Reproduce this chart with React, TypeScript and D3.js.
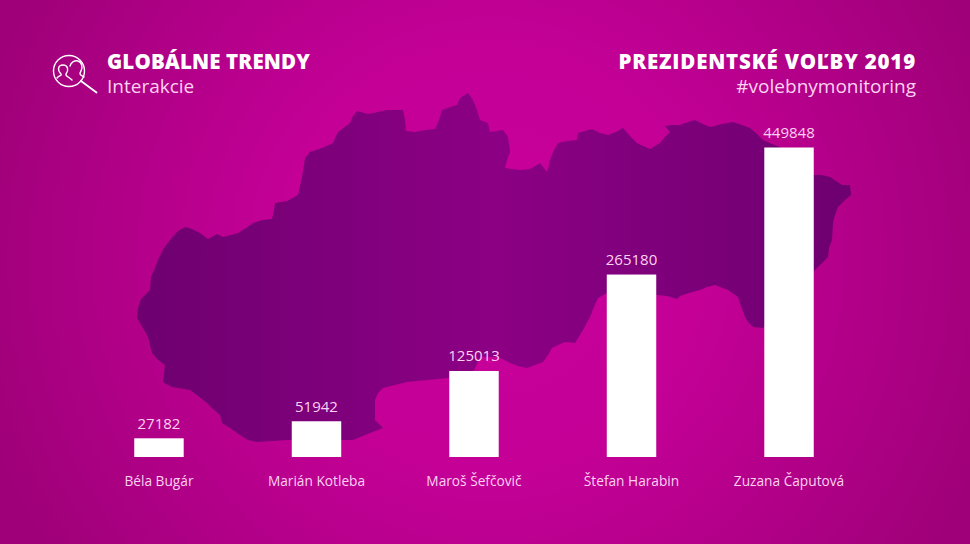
import React from 'react';
import * as d3 from 'd3';

const candidates = ['Béla Bugár', 'Marián Kotleba', 'Maroš Šefčovič', 'Štefan Harabin', 'Zuzana Čaputová'];
const interactions = [27182, 51942, 125013, 265180, 449848];

// Outline of Slovakia, in the picture's own units
const slovakiaOutline: [number, number][] = [
  [137,318],[138,308],[141,299],[150,290],[151,277],[155,268],[158,260],[164,248],[170,240],[178,231],[185,227],[192,229],[200,233],[208,239],[217,234],[223,237],[231,235],[238,233],[246,228],[253,223],[262,220],[272,219],[274,210],[275,203],[287,201],[298,195],[300,186],[302,177],[304,165],[305,158],[310,152],[322,148],[333,143],[336,136],[338,132],[350,123],[353,116],[357,111],[368,114],[378,112],[387,110],[403,110],[405,120],[406,131],[415,132],[425,130],[435,129],[439,120],[442,110],[450,107],[457,105],[460,98],[468,93],[473,100],[477,110],[480,120],[488,123],[490,132],[503,130],[508,137],[510,152],[507,160],[505,168],
  [520,170],[530,169],[540,163],[547,172],[549,165],[550,160],[554,150],[558,143],[567,141],[577,140],[578,133],[585,131],[592,129],[600,133],[608,135],[616,132],[623,128],[630,136],[637,143],[643,146],[650,149],[660,143],[665,137],[670,132],[665,126],[672,125],[680,125],[688,122],[695,120],[703,124],[710,127],[722,124],[733,122],[742,125],[750,128],[757,134],[763,140],[772,144],[780,147],
  [813,175],[822,175],[830,177],[836,181],[842,185],[850,185],[851,195],[845,200],[838,207],[835,215],[833,223],[832,240],[829,248],[828,257],[821,264],[813,272],
  [763,328],[753,327],[748,322],[745,317],[741,306],[738,297],[728,290],[715,285],[707,287],[700,290],[689,293],[680,296],[677,299],[667,296],[657,295],[607,293],[598,298],[594,307],[590,317],[583,330],[575,343],[565,342],[558,345],[552,348],[548,355],[543,362],[535,365],[527,368],[518,366],[510,363],[498,357],[480,357],[471,377],
  [448,378],[428,380],[407,382],[395,385],[383,388],[378,393],[375,400],[375,420],[383,428],[370,433],[353,440],[333,440],[287,440],[257,442],[248,440],[240,435],[230,428],[222,423],[220,415],[213,409],[207,403],[198,396],[190,390],[172,387],[163,382],[165,365],[158,360],[152,353],[150,345],[148,337],[143,328]
];

const W = 970, H = 544;
const baseline = 457;
const x = d3.scaleBand<string>().domain(candidates).range([134.25, 813.75]).paddingInner(0.686).paddingOuter(0);
const y = d3.scaleLinear().domain([0, 449848]).range([baseline, 147.5]);
const outlinePath = d3.line<[number, number]>().x(d => d[0]).y(d => d[1]).curve(d3.curveLinearClosed)(slovakiaOutline) as string;
const font = '"Open Sans", sans-serif';
const pink = '#fcd2f2';

export default function App() {
  return (
    <svg width={W} height={H} viewBox={`0 0 ${W} ${H}`} style={{ position: 'absolute', left: 0, top: 0, display: 'block' }} fontFamily={font}>
      <defs>
        <radialGradient id="bg" gradientUnits="userSpaceOnUse" cx={490} cy={260} r={530}>
          <stop offset="0" stopColor="#c8009a" />
          <stop offset="0.4" stopColor="#c40097" />
          <stop offset="1" stopColor="#9f0079" />
        </radialGradient>
        <linearGradient id="map" gradientUnits="userSpaceOnUse" x1={137} x2={851} y1={0} y2={0}>
          <stop offset="0" stopColor="#6e0070" />
          <stop offset="0.5" stopColor="#8c0084" />
          <stop offset="1" stopColor="#6e0070" />
        </linearGradient>
      </defs>
      <rect width={W} height={H} fill="url(#bg)" />
      <path d={outlinePath} fill="url(#map)" />

      <g fill="none" stroke="#fff" strokeWidth={1.4} strokeLinecap="round">
        <circle cx={69} cy={71} r={15.5} />
        <path d="M81 81 L96.5 92.5" strokeWidth={1.8} />
        <path d="M57 78 C59 75 62 76 61 74 C57 70 58 65 63 65 C68 65 69 70 66 74 C65 76 69 77 72 80" />
        <path d="M70 66 C71 62 75 60 78 61 C82 62 83 68 81 71 C79 74 80 75 84 77" />
      </g>
      <text x={107} y={69} fill="#fff" fontWeight={800} fontSize={20.5} letterSpacing={0.15}>GLOBÁLNE TRENDY</text>
      <text x={107} y={93} fill={pink} fontSize={19}>Interakcie</text>
      <text x={916} y={69} textAnchor="end" fill="#fff" fontWeight={800} fontSize={20.5} letterSpacing={0.8}>PREZIDENTSKÉ VOĽBY 2019</text>
      <text x={916} y={93} textAnchor="end" fill={pink} fontSize={19}>#volebnymonitoring</text>

      {candidates.map((c, i) => (
        <g key={c}>
          <rect x={x(c)} y={y(interactions[i])} width={x.bandwidth()} height={baseline - y(interactions[i])} fill="#fff" />
          <text x={x(c)! + x.bandwidth() / 2} y={y(interactions[i]) - 9.5} textAnchor="middle" fill={pink} fontSize={15}>{interactions[i]}</text>
          <text x={x(c)! + x.bandwidth() / 2} y={486} textAnchor="middle" fill={pink} fontSize={13.7}>{c}</text>
        </g>
      ))}
    </svg>
  );
}
